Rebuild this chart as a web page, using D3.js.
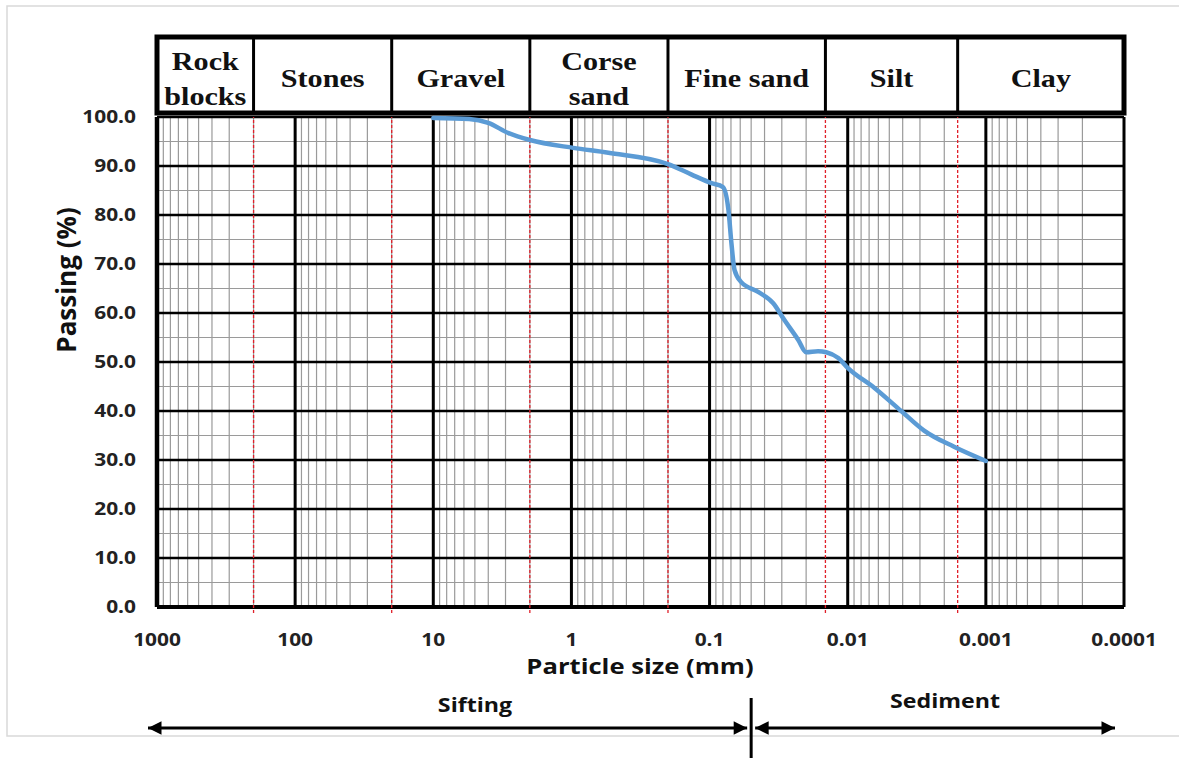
<!DOCTYPE html>
<html>
<head>
<meta charset="utf-8">
<script src="https://cdn.jsdelivr.net/npm/d3@7"></script>
<style>
  html, body { margin: 0; padding: 0; background: #fff; }
</style>
</head>
<body>
<div id="viz-1"></div>
<script>
// soil classes, from coarse to fine (upper limits in mm)
var classNames = [["Rock", "blocks"], ["Stones"], ["Gravel"], ["Corse", "sand"], ["Fine sand"], ["Silt"], ["Clay"]];
var classLimits = [1000, 200, 20, 2, 0.2, 0.0145, 0.0016, 0.0001];

// grain size curve
var sizes = [10, 5.5, 4, 2.85, 2, 0.97, 0.54, 0.2, 0.136, 0.097, 0.08, 0.073, 0.0695, 0.066, 0.059, 0.0445, 0.0346, 0.0288, 0.0228, 0.02, 0.0164, 0.0143, 0.0117, 0.01, 0.0064, 0.0041, 0.0028, 0.0017, 0.001];
var passing = [99.8, 99.6, 98.8, 96.7, 95.3, 93.7, 92.7, 90.4, 88.3, 86.5, 85.7, 81, 74.3, 68.8, 66.3, 64.3, 62, 58.6, 54.5, 52, 52.2, 52, 50.8, 48.8, 44.7, 40, 36, 32.7, 29.8];

var xTicks = [1000, 100, 10, 1, 0.1, 0.01, 0.001, 0.0001];
var xTickLabels = ["1000", "100", "10", "1", "0.1", "0.01", "0.001", "0.0001"];
var yTicks = [0, 10, 20, 30, 40, 50, 60, 70, 80, 90, 100];

var siftLimit = 0.05;

function main() {
  const width = 1179;
  const height = 758;
  const marginTop = 117;
  const marginRight = 55;
  const marginBottom = 151;
  const marginLeft = 157;
  const sans = "'Open Sans', 'Liberation Sans', sans-serif";
  const serif = "'Liberation Serif', 'Times New Roman', serif";
  // the original figure is a bit wider than tall, so texts get stretched
  const stretch = 1.16;

  // Create the scales
  const x = d3.scaleLog().domain([1000, 0.0001]).range([marginLeft, width - marginRight]);
  const y = d3.scaleLinear().domain([0, 100]).range([height - marginBottom, marginTop]);

  const svg = d3.create("svg")
      .attr("width", width)
      .attr("height", height)
      .attr("viewBox", [0, 0, width, height])
      .attr("style", "display: block;");

  // light frame around the figure
  svg.append("rect")
      .attr("x", 7).attr("y", 6)
      .attr("width", 1300).attr("height", 730)
      .attr("fill", "none")
      .attr("stroke", "#d9d9d9")
      .attr("stroke-width", 1.5);

  // minor vertical lines (2..9 of each decade)
  var minor = [];
  for (var e = -4; e < 3; e++) {
    for (var k = 2; k < 10; k++) minor.push(k * Math.pow(10, e));
  }
  svg.append("g")
    .selectAll("line")
    .data(minor)
    .join("line")
      .attr("x1", d => x(d)).attr("x2", d => x(d))
      .attr("y1", y(0)).attr("y2", y(100))
      .attr("stroke", "#9a9a9a")
      .attr("stroke-width", 1.2);

  // minor horizontal lines (every 5 %)
  svg.append("g")
    .selectAll("line")
    .data(d3.range(5, 100, 10))
    .join("line")
      .attr("x1", x(1000)).attr("x2", x(0.0001))
      .attr("y1", d => y(d)).attr("y2", d => y(d))
      .attr("stroke", "#9a9a9a")
      .attr("stroke-width", 1.2);

  // major horizontal lines
  svg.append("g")
    .selectAll("line")
    .data(yTicks)
    .join("line")
      .attr("x1", x(1000)).attr("x2", x(0.0001))
      .attr("y1", d => y(d)).attr("y2", d => y(d))
      .attr("stroke", "#000")
      .attr("stroke-width", d => d == 0 ? 4 : 2.5);

  // decade lines
  svg.append("g")
    .selectAll("line")
    .data(xTicks)
    .join("line")
      .attr("x1", d => x(d)).attr("x2", d => x(d))
      .attr("y1", y(0)).attr("y2", y(100))
      .attr("stroke", "#000")
      .attr("stroke-width", (d, i) => i == 0 ? 4.5 : 3);

  // class limits (red dashed)
  svg.append("g")
    .selectAll("line")
    .data(classLimits.slice(1, -1))
    .join("line")
      .attr("x1", d => x(d)).attr("x2", d => x(d))
      .attr("y1", y(0) + 6).attr("y2", y(100))
      .attr("stroke", "#e0202a")
      .attr("stroke-width", 1.3)
      .attr("stroke-dasharray", "3,2");

  // header table with class names
  const headTop = 37, headBottom = 113;
  const head = svg.append("g");
  head.selectAll("line")
    .data(classLimits.slice(1, -1))
    .join("line")
      .attr("x1", d => x(d)).attr("x2", d => x(d))
      .attr("y1", headTop).attr("y2", headBottom)
      .attr("stroke", "#000")
      .attr("stroke-width", 3);
  head.append("rect")
      .attr("x", x(1000)).attr("y", headTop)
      .attr("width", x(0.0001) - x(1000))
      .attr("height", headBottom - headTop)
      .attr("fill", "none")
      .attr("stroke", "#000")
      .attr("stroke-width", 5);

  head.selectAll("text")
    .data(classNames)
    .join("text")
      .attr("transform", (d, i) => "translate(" + (x(classLimits[i]) + x(classLimits[i + 1])) / 2 + "," + (d.length == 2 ? 70 : 87) + ") scale(" + stretch + ",1)")
      .attr("text-anchor", "middle")
      .attr("font-family", serif)
      .attr("font-weight", "bold")
      .attr("font-size", 26)
      .attr("fill", "#111")
      .selectAll("tspan")
      .data(d => d)
      .join("tspan")
        .attr("x", 0)
        .attr("dy", (d, i) => i == 0 ? 0 : 35)
        .text(d => d);

  // the curve
  const line = d3.line()
      .x((d, i) => x(sizes[i]))
      .y((d, i) => y(passing[i]))
      .curve(d3.curveMonotoneX);

  svg.append("path")
      .datum(passing)
      .attr("d", line)
      .attr("fill", "none")
      .attr("stroke", "#5b9bd5")
      .attr("stroke-width", 4.5)
      .attr("stroke-linejoin", "round")
      .attr("stroke-linecap", "round");

  // y tick labels
  svg.append("g")
    .selectAll("text")
    .data(yTicks)
    .join("text")
      .attr("transform", d => "translate(136," + (y(d) + 6) + ") scale(" + stretch + ",1)")
      .attr("text-anchor", "end")
      .attr("font-family", sans)
      .attr("font-weight", "bold")
      .attr("font-size", 18)
      .attr("fill", "#222")
      .text(d => d.toFixed(1));

  // x tick labels
  svg.append("g")
    .selectAll("text")
    .data(xTicks)
    .join("text")
      .attr("transform", d => "translate(" + x(d) + ",646) scale(" + stretch + ",1)")
      .attr("text-anchor", "middle")
      .attr("font-family", sans)
      .attr("font-weight", "bold")
      .attr("font-size", 18)
      .attr("fill", "#222")
      .text((d, i) => xTickLabels[i]);

  // axis titles
  svg.append("text")
      .attr("transform", "translate(640,674) scale(1.22,1)")
      .attr("text-anchor", "middle")
      .attr("font-family", sans)
      .attr("font-weight", "bold")
      .attr("font-size", 21)
      .attr("fill", "#111")
      .text("Particle size (mm)");

  svg.append("text")
      .attr("transform", "translate(76,280) rotate(-90)")
      .attr("text-anchor", "middle")
      .attr("font-family", sans)
      .attr("font-weight", "bold")
      .attr("font-size", 26)
      .attr("fill", "#111")
      .text("Passing (%)");

  // sifting / sediment arrows
  svg.append("defs").append("marker")
      .attr("id", "arr")
      .attr("viewBox", "0 0 10 10")
      .attr("refX", 10).attr("refY", 5)
      .attr("markerWidth", 5).attr("markerHeight", 4.5)
      .attr("markerUnits", "strokeWidth")
      .attr("orient", "auto-start-reverse")
      .append("path")
      .attr("d", "M0,0L10,5L0,10Z")
      .attr("fill", "#000");

  const arrowY = 728;
  const sep = x(siftLimit);
  var arrows = [[x(1000) - 9, sep - 4], [sep + 4, x(0.0001) - 9]];
  svg.append("g")
    .selectAll("line")
    .data(arrows)
    .join("line")
      .attr("x1", d => d[0]).attr("x2", d => d[1])
      .attr("y1", arrowY).attr("y2", arrowY)
      .attr("stroke", "#000")
      .attr("stroke-width", 3)
      .attr("marker-start", "url(#arr)")
      .attr("marker-end", "url(#arr)");

  svg.append("line")
      .attr("x1", sep).attr("x2", sep)
      .attr("y1", 698).attr("y2", height)
      .attr("stroke", "#000")
      .attr("stroke-width", 3);

  svg.append("text")
      .attr("transform", "translate(475,712) scale(" + stretch + ",1)")
      .attr("text-anchor", "middle")
      .attr("font-family", sans)
      .attr("font-weight", "bold")
      .attr("font-size", 20)
      .attr("fill", "#111")
      .text("Sifting");

  svg.append("text")
      .attr("transform", "translate(945,708) scale(" + stretch + ",1)")
      .attr("text-anchor", "middle")
      .attr("font-family", sans)
      .attr("font-weight", "bold")
      .attr("font-size", 20)
      .attr("fill", "#111")
      .text("Sediment");

  // attach to HTML
  d3.select("#viz-1").append(() => svg.node());
}

main();
</script>
</body>
</html>
